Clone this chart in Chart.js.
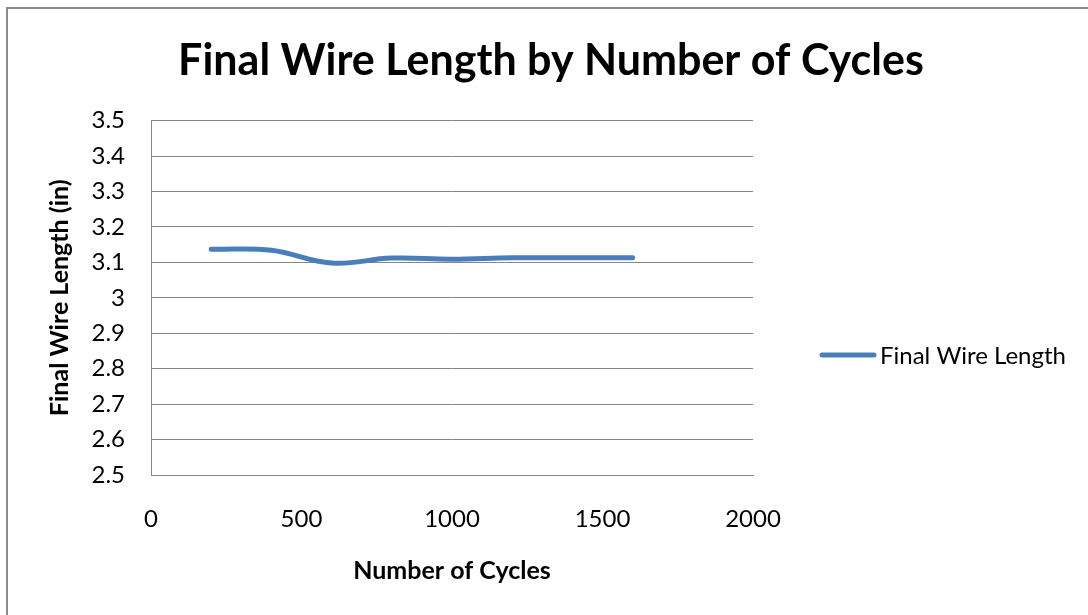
<!DOCTYPE html>
<html>
<head>
<meta charset="utf-8">
<title>Final Wire Length by Number of Cycles</title>
<script src="https://cdn.jsdelivr.net/npm/chart.js@4.4.0/dist/chart.umd.min.js"></script>
<style>
  html, body { margin: 0; padding: 0; background: #fff; }
  canvas { display: block; }
</style>
</head>
<body>
<canvas id="wireChart" width="1088" height="615"></canvas>
<script>
// values
const cycles = [200, 400, 600, 800, 1000, 1200, 1400, 1600];
const wireLength = [3.137, 3.134, 3.098, 3.112, 3.109, 3.113, 3.113, 3.113];
const seriesName = "Final Wire Length";

const lineBlue = "#4a7ebb";
const gridGray = "#868686";
const fontFamily = "Lato, 'Open Sans', sans-serif";

// grey outline round the whole chart, like the spreadsheet frame
const framePlugin = {
    id: "frame",
    beforeDraw(chart) {
        const ctx = chart.ctx;
        ctx.save();
        ctx.fillStyle = "#fff";
        ctx.fillRect(0, 0, chart.width, chart.height);
        ctx.strokeStyle = "#8c8c8c";
        ctx.lineWidth = 2;
        ctx.strokeRect(7, 8, chart.width + 20, chart.height + 20);
        ctx.restore();
    }
};

// legend on the right, sitting a bit lower than the plot centre
const sideLegend = {
    id: "sideLegend",
    afterDraw(chart) {
        const ctx = chart.ctx;
        const ds = chart.data.datasets[0];
        const y = 355;
        ctx.save();
        ctx.strokeStyle = ds.borderColor;
        ctx.lineWidth = ds.borderWidth;
        ctx.lineCap = "round";
        ctx.beginPath();
        ctx.moveTo(822, y);
        ctx.lineTo(874, y);
        ctx.stroke();
        ctx.fillStyle = "#000";
        ctx.font = "24px " + fontFamily;
        ctx.textBaseline = "middle";
        ctx.fillText(ds.label, 880, y + 1);
        ctx.restore();
    }
};

const points = cycles.map((c, i) => ({ x: c, y: wireLength[i] }));

new Chart(document.getElementById("wireChart"), {
    type: "line",
    data: {
        datasets: [
            {
                label: seriesName,
                data: points,
                borderColor: lineBlue,
                borderWidth: 5,
                pointRadius: 0,
                tension: 0.4,
                borderCapStyle: "round",
                fill: false
            }
        ]
    },
    options: {
        responsive: false,
        animation: false,
        layout: {
            padding: { left: 14, top: 0, right: 0, bottom: 0 }
        },
        plugins: {
            legend: { display: false },
            tooltip: { enabled: false },
            title: {
                display: true,
                text: "Final Wire Length by Number of Cycles",
                color: "#000",
                font: { family: fontFamily, size: 43, weight: "bold" },
                padding: { top: 35, bottom: 34 }
            }
        },
        scales: {
            x: {
                type: "linear",
                min: 0,
                max: 2000,
                ticks: {
                    stepSize: 500,
                    color: "#000",
                    padding: 30,
                    font: { family: fontFamily, size: 24 },
                    callback: (v) => String(v)
                },
                grid: { display: false, drawTicks: false },
                border: { display: true, color: gridGray, width: 1 },
                title: {
                    display: true,
                    text: "Number of Cycles",
                    color: "#000",
                    font: { family: fontFamily, size: 25, weight: "bold" },
                    padding: { top: 0, bottom: 29 }
                },
                afterFit: (scale) => { scale.height = 140; }
            },
            y: {
                min: 2.5,
                max: 3.5,
                ticks: {
                    stepSize: 0.1,
                    color: "#000",
                    padding: 26,
                    font: { family: fontFamily, size: 24 },
                    callback: (v) => String(parseFloat(v.toFixed(1)))
                },
                grid: { color: gridGray, lineWidth: 1, drawTicks: false },
                border: { display: true, color: gridGray, width: 1 },
                title: {
                    display: true,
                    text: "Final Wire Length (in)",
                    color: "#000",
                    font: { family: fontFamily, size: 25, weight: "bold" },
                    padding: { top: 31, bottom: 0 }
                },
                afterFit: (scale) => { scale.width = 137; }
            },
            // empty right-hand band that leaves room for the legend
            side: {
                position: "right",
                display: true,
                ticks: { display: false },
                grid: { display: false, drawTicks: false },
                border: { display: false },
                afterFit: (scale) => { scale.width = 335; }
            }
        }
    },
    plugins: [framePlugin, sideLegend]
});
</script>
</body>
</html>
